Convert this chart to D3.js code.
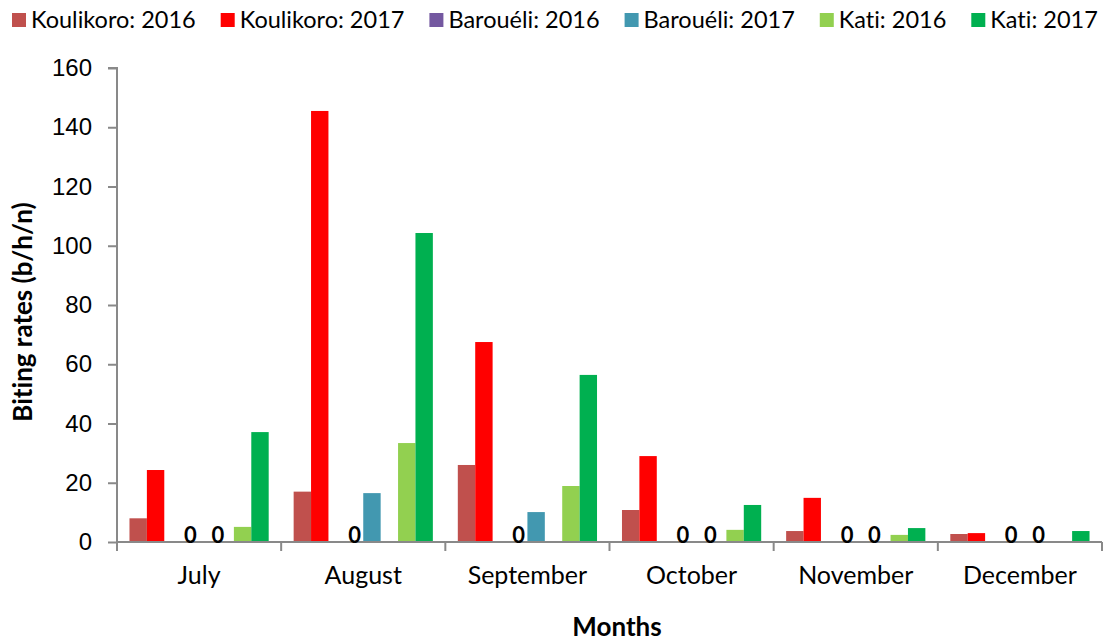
<!DOCTYPE html>
<html>
<head>
<meta charset="utf-8">
<script src="https://cdn.jsdelivr.net/npm/d3@7"></script>
<style>
  body { margin: 0; background: #fff; }
  svg { font-family: Lato, "Open Sans", sans-serif; font-variant-ligatures: none; }
</style>
</head>
<body>
<svg id="chart" width="1110" height="642"></svg>
<script>
// chart data
const months = ["July", "August", "September", "October", "November", "December"]
const seriesNames = ["Koulikoro: 2016", "Koulikoro: 2017", "Barouéli: 2016", "Barouéli: 2017", "Kati: 2016", "Kati: 2017"]
const koulikoro2016 = [8, 17, 26, 10.8, 3.7, 2.7]
const koulikoro2017 = [24.3, 145.5, 67.5, 29, 14.9, 3]
const barouel2016 = [0, 0, 0, 0, 0, 0]
const barouel2017 = [0, 16.5, 10.1, 0, 0, 0]
const kati2016 = [5.1, 33.4, 18.9, 4.1, 2.4, null]
const kati2017 = [37.1, 104.3, 56.4, 12.5, 4.7, 3.7]
const yTicks = [0, 20, 40, 60, 80, 100, 120, 140, 160]

const seriesValues = [koulikoro2016, koulikoro2017, barouel2016, barouel2017, kati2016, kati2017]
const colors = ["#C0504D", "#FF0000", "#7458A0", "#4298B0", "#92D050", "#00B050"]
// each month has 8 slots, pairs are separated by an empty slot
const slots = [0, 1, 3, 4, 6, 7]

const svg = d3.select("#chart")
const plotLeft = 117, plotRight = 1102, plotTop = 68, plotBottom = 542

const x = d3.scaleBand()
  .domain(months)
  .range([plotLeft, plotRight])
  .paddingInner(0.152)
  .paddingOuter(0.076)

const sub = d3.scaleBand()
  .domain(d3.range(8))
  .range([0, x.bandwidth()])

const y = d3.scaleLinear()
  .domain([0, 160])
  .range([plotBottom, plotTop])

// flatten into one record per bar
const bars = []
seriesValues.forEach((vals, s) => {
  vals.forEach((v, i) => bars.push({s, month: months[i], value: v}))
})

// y axis
const yAxis = svg.append("g")
  .attr("transform", `translate(${plotLeft},0)`)
  .call(d3.axisLeft(y).tickValues(yTicks).tickSize(9).tickPadding(16))
yAxis.selectAll("path, line").attr("stroke", "#898989").attr("stroke-width", 2)
yAxis.select(".domain").attr("d", `M-9,${plotTop}H0V${plotBottom}`)
yAxis.selectAll("text")
  .style("font-size", "24px")
  .attr("fill", "#000")

// bars
svg.append("g")
  .selectAll("rect")
  .data(bars.filter(d => d.value))
  .join("rect")
  .attr("x", d => x(d.month) + sub(slots[d.s]))
  .attr("width", sub.bandwidth())
  .attr("y", d => y(d.value))
  .attr("height", d => y(0) - y(d.value))
  .attr("fill", d => colors[d.s])

// x axis line and ticks on the month boundaries
const xg = svg.append("g")
xg.append("line")
  .attr("x1", plotLeft).attr("x2", plotRight)
  .attr("y1", plotBottom).attr("y2", plotBottom)
  .attr("stroke", "#898989").attr("stroke-width", 2)
const bounds = months.map(m => x(m) - x.step() * x.paddingInner() / 2)
bounds.push(plotRight)
xg.selectAll(".xtick")
  .data(bounds)
  .join("line")
  .attr("class", "xtick")
  .attr("x1", d => d).attr("x2", d => d)
  .attr("y1", plotBottom).attr("y2", plotBottom + 9)
  .attr("stroke", "#898989").attr("stroke-width", 2)
xg.selectAll(".xlabel")
  .data(months)
  .join("text")
  .attr("class", "xlabel")
  .attr("x", d => x(d) + x.bandwidth() / 2)
  .attr("y", 584)
  .attr("text-anchor", "middle")
  .style("font-size", "25px")
  .text(d => d)

// zero labels on the Barouéli series
svg.append("g")
  .selectAll("text")
  .data(bars.filter(d => d.value === 0))
  .join("text")
  .attr("x", d => x(d.month) + sub(slots[d.s]) + sub.bandwidth() / 2 + (d.s === 3 ? 10 : 0))
  .attr("y", plotBottom + 1)
  .attr("text-anchor", "middle")
  .style("font-size", "22px")
  .style("font-weight", "bold")
  .text("0")

// axis titles
svg.append("text")
  .attr("transform", "translate(32,312) rotate(-90)")
  .attr("text-anchor", "middle")
  .style("font-size", "26px")
  .style("font-weight", "bold")
  .text("Biting rates (b/h/n)")

svg.append("text")
  .attr("x", 617)
  .attr("y", 636)
  .attr("text-anchor", "middle")
  .style("font-size", "26px")
  .style("font-weight", "bold")
  .text("Months")

// legend, items laid out one after the other
const legend = svg.append("g")
let lx = 12
seriesNames.forEach((name, i) => {
  const item = legend.append("g").attr("transform", `translate(${lx},0)`)
  item.append("rect")
    .attr("x", 0).attr("y", 13)
    .attr("width", 14).attr("height", 14)
    .attr("fill", colors[i])
  const t = item.append("text")
    .attr("x", 19).attr("y", 28)
    .style("font-size", "23.5px")
    .text(name)
  lx += 19 + t.node().getComputedTextLength() + 25
})
</script>
</body>
</html>
